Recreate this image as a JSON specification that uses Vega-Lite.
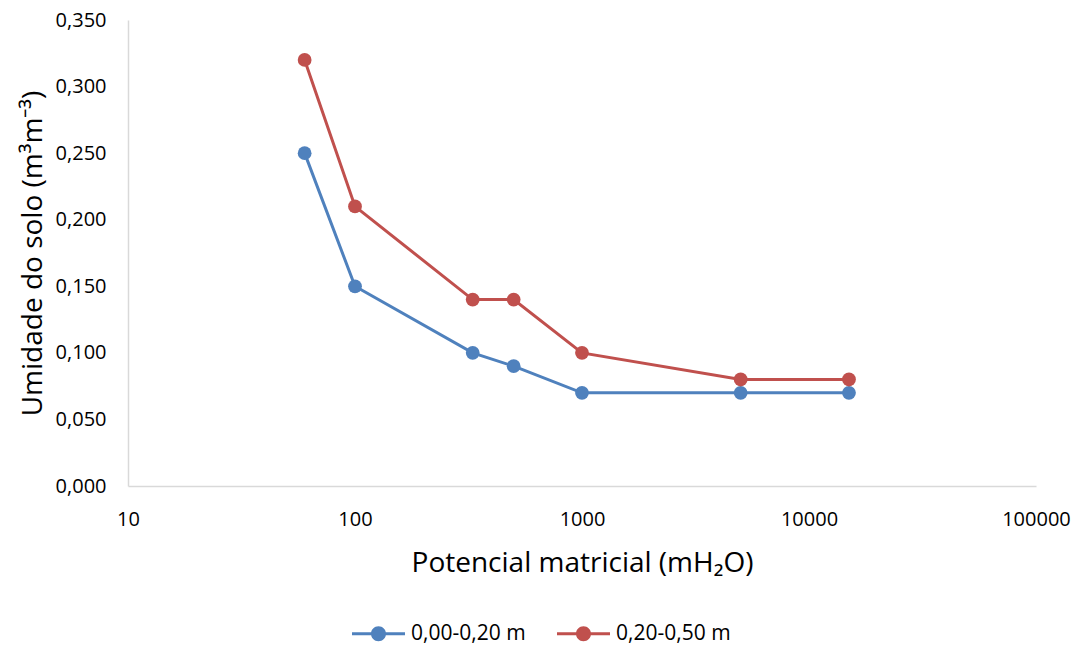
{
  "$schema": "https://vega.github.io/schema/vega-lite/v6.json",
  "width": 908,
  "height": 466,
  "autosize": "none",
  "padding": {"left": 128, "top": 20, "right": 47, "bottom": 159},
  "background": "white",
  "config": {
    "view": {"stroke": null},
    "font": "Open Sans",
    "locale": {
      "number": {"decimal": ",", "thousands": ".", "grouping": [3], "currency": ["", ""]}
    }
  },
  "data": {
    "values": [
      {"potencial": 60, "umidade": 0.25, "camada": "0,00-0,20 m"},
      {"potencial": 100, "umidade": 0.15, "camada": "0,00-0,20 m"},
      {"potencial": 330, "umidade": 0.10, "camada": "0,00-0,20 m"},
      {"potencial": 500, "umidade": 0.09, "camada": "0,00-0,20 m"},
      {"potencial": 1000, "umidade": 0.07, "camada": "0,00-0,20 m"},
      {"potencial": 5000, "umidade": 0.07, "camada": "0,00-0,20 m"},
      {"potencial": 15000, "umidade": 0.07, "camada": "0,00-0,20 m"},
      {"potencial": 60, "umidade": 0.32, "camada": "0,20-0,50 m"},
      {"potencial": 100, "umidade": 0.21, "camada": "0,20-0,50 m"},
      {"potencial": 330, "umidade": 0.14, "camada": "0,20-0,50 m"},
      {"potencial": 500, "umidade": 0.14, "camada": "0,20-0,50 m"},
      {"potencial": 1000, "umidade": 0.10, "camada": "0,20-0,50 m"},
      {"potencial": 5000, "umidade": 0.08, "camada": "0,20-0,50 m"},
      {"potencial": 15000, "umidade": 0.08, "camada": "0,20-0,50 m"}
    ]
  },
  "encoding": {
    "x": {
      "field": "potencial",
      "type": "quantitative",
      "scale": {"type": "log", "domain": [10, 100000], "nice": false},
      "axis": {
        "values": [10, 100, 1000, 10000, 100000],
        "format": "d",
        "title": "Potencial matricial (mH₂O)",
        "grid": false,
        "ticks": false,
        "labelFlush": false,
        "domainColor": "#d9d9d9",
        "domainWidth": 1.5,
        "labelFontSize": 20,
        "labelColor": "#000000",
        "labelPadding": 23,
        "titleFontSize": 28,
        "titleFontWeight": "normal",
        "titleColor": "#000000",
        "titlePadding": 20
      }
    },
    "y": {
      "field": "umidade",
      "type": "quantitative",
      "scale": {"domain": [0, 0.35], "nice": false},
      "axis": {
        "values": [0, 0.05, 0.1, 0.15, 0.2, 0.25, 0.3, 0.35],
        "format": ".3f",
        "title": "Umidade do solo (m³m⁻³)",
        "grid": false,
        "ticks": false,
        "labelFlush": false,
        "domainColor": "#d9d9d9",
        "domainWidth": 1.5,
        "labelFontSize": 20,
        "labelColor": "#000000",
        "labelPadding": 22,
        "titleFontSize": 28,
        "titleFontWeight": "normal",
        "titleColor": "#000000",
        "titlePadding": 8
      }
    },
    "color": {
      "field": "camada",
      "type": "nominal",
      "scale": {"domain": ["0,00-0,20 m", "0,20-0,50 m"], "range": ["#4f81bd", "#c0504d"]},
      "legend": {
        "title": null,
        "orient": "none",
        "direction": "horizontal",
        "legendX": 240,
        "legendY": 603,
        "symbolType": "M-2.65,-0.15 L2.65,-0.15 L2.65,0.15 L-2.65,0.15 Z M0.75,0 A0.75,0.75 0 1,1 -0.75,0 A0.75,0.75 0 1,1 0.75,0 Z",
        "symbolSize": 400,
        "symbolStrokeWidth": 0,
        "symbolOpacity": 1,
        "labelFontSize": 21,
        "labelColor": "#000000",
        "labelOffset": 22,
        "columnPadding": 31
      }
    }
  },
  "layer": [
    {
      "mark": {"type": "line", "strokeWidth": 3}
    },
    {
      "mark": {"type": "point", "filled": true, "size": 190, "opacity": 1}
    }
  ]
}
